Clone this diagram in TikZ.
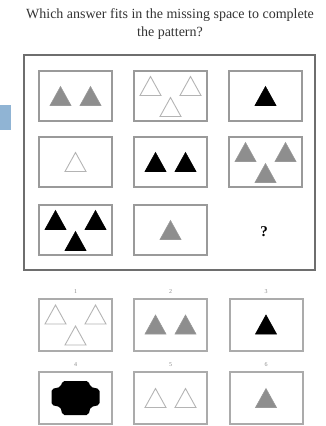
\documentclass[tikz,border=0pt]{standalone}
\usepackage{fontspec}
\setmainfont{Liberation Serif}
\usetikzlibrary{positioning,calc}
\definecolor{framegray}{HTML}{6E6E6E}
\definecolor{cellgray}{HTML}{9A9A9A}
\definecolor{answergray}{HTML}{ABABAB}
\definecolor{trigray}{HTML}{8E8E8E}
\definecolor{opengray}{HTML}{B4B4B4}
\definecolor{tabblue}{HTML}{90B4D4}
\definecolor{labelgray}{HTML}{8A8A8A}
\tikzset{
  title/.style={font=\fontsize{14}{18}\selectfont, text=black!80, align=center, inner sep=0pt},
  cell/.style={rectangle, draw=cellgray, line width=2pt,
    minimum width=73pt, minimum height=50pt},
  answer/.style={rectangle, draw=answergray, line width=2pt,
    minimum width=73pt, minimum height=52pt},
  anslabel/.style={font=\fontsize{6}{7}\selectfont, text=labelgray},
  graytri/.style={fill=trigray, draw=trigray!90, line width=0.6pt},
  blacktri/.style={fill=black, draw=black, line width=0.6pt},
  opentri/.style={fill=white, draw=opengray, line width=0.9pt}
}
% triangle centred at #1 (calc expression), look #2
\newcommand{\tri}[2]{
  \draw[#2] ($#1+(-10.5,9.5)$) -- ($#1+(10.5,9.5)$) -- ($#1+(0,-9.5)$) -- cycle;
}
\newcommand{\twotri}[2]{
  \tri{(#1)+(-15,0)}{#2}
  \tri{(#1)+(15,0)}{#2}
}
\newcommand{\threetri}[2]{
  \tri{(#1)+(-20,-10)}{#2}
  \tri{(#1)+(20,-10)}{#2}
  \tri{(#1)+(0,11)}{#2}
}

\begin{document}
\begin{tikzpicture}[x=1pt,y=-1pt]
\useasboundingbox (0,0) rectangle (325,426);
\node[title] (ttl) at (170,24) {Which answer fits in the missing space to complete\\the pattern?};
\fill[tabblue] (0,105) rectangle (11,130);
\draw[framegray, line width=2.5pt] (24,55) rectangle (315,270);
% puzzle grid
\node[cell] (q11) at (75.5,96) {};
\node[cell] (q12) at (170.5,96) {};
\node[cell] (q13) at (265.5,96) {};
\node[cell] (q21) at (75.5,162) {};
\node[cell] (q22) at (170.5,162) {};
\node[cell] (q23) at (265.5,162) {};
\node[cell] (q31) at (75.5,230) {};
\node[cell] (q32) at (170.5,230) {};
\node[font=\bfseries\fontsize{15}{16}\selectfont] (q33) at (264,232) {?};
\twotri{q11}{graytri}
\threetri{q12}{opentri}
\tri{(q13)}{blacktri}
\tri{(q21)}{opentri}
\twotri{q22}{blacktri}
\threetri{q23}{graytri}
\threetri{q31}{blacktri}
\tri{(q32)}{graytri}
% answers
\node[answer] (a1) at (75.5,324.5) {};
\node[answer] (a2) at (170.5,324.5) {};
\node[answer] (a3) at (266,324.5) {};
\node[answer] (a4) at (75.5,398) {};
\node[answer] (a5) at (170.5,398) {};
\node[answer] (a6) at (266,398) {};
\foreach \n in {1,...,6}
  \node[anslabel, above=0.5pt of a\n] (la\n) {\n};
\threetri{a1}{opentri}
\twotri{a2}{graytri}
\tri{(a3)}{blacktri}
\fill[black, rounded corners=2pt] ($(a4)+(-13,-17)$) -- ++(26,0) -- ++(2,6) -- ++(9,2)
  -- ++(0,16) -- ++(-9,2) -- ++(-2,8) -- ++(-26,0) -- ++(-2,-8) -- ++(-9,-2)
  -- ++(0,-16) -- ++(9,-2) -- cycle;
\twotri{a5}{opentri}
\tri{(a6)}{graytri}
\end{tikzpicture}
\end{document}
